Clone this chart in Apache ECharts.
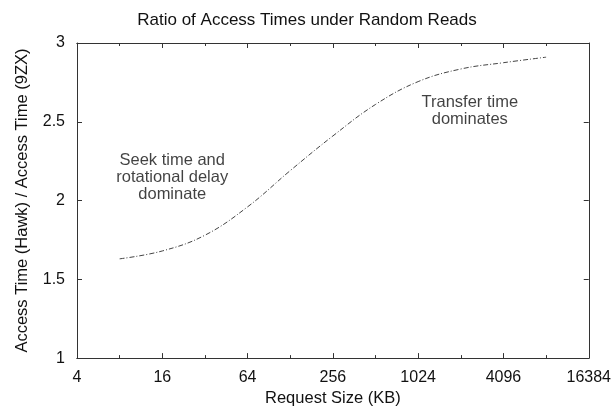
<!DOCTYPE html>
<html>
<head>
<meta charset="utf-8">
<script src="https://cdn.jsdelivr.net/npm/echarts@6/dist/echarts.min.js"></script>
<style>
html,body{margin:0;padding:0;background:#fff;}
#c{width:614px;height:412px;}
</style>
</head>
<body>
<div id="c"></div>
<script>
// Data
var requestSizesKB = [8, 16, 32, 64, 128, 256, 512, 1024, 2048, 4096, 8192];
var accessTimeRatio = [1.63, 1.68, 1.78, 1.96, 2.19, 2.41, 2.61, 2.755, 2.835, 2.875, 2.91];
var xTickLabels = [4, 16, 64, 256, 1024, 4096, 16384];
var yTickLabels = [1, 1.5, 2, 2.5, 3];
var annotationTexts = ['Seek time and\nrotational delay\ndominate', 'Transfer time\ndominates'];
var annotationAnchors = [[18.8, 2.147], [2370, 2.57]];

var FONT = 'Liberation Sans, Arial, Helvetica, sans-serif';
var TXT = '#111';
var LINE = '#333';

var chart = echarts.init(document.getElementById('c'), null, {renderer: 'canvas'});

function xAxisCfg(pos, interval, tickLen, showLabel, showName) {
  return {
    type: 'log',
    logBase: 2,
    min: xTickLabels[0],
    max: xTickLabels[xTickLabels.length - 1],
    interval: interval,
    position: pos,
    name: showName ? 'Request Size (KB)' : '',
    nameLocation: 'middle',
    nameGap: 27,
    nameTextStyle: {fontFamily: FONT, fontSize: 16.5, color: TXT},
    axisLine: {show: true, lineStyle: {color: LINE, width: 1}},
    axisTick: {show: true, inside: true, length: tickLen, lineStyle: {color: LINE, width: 1}},
    axisLabel: {show: showLabel, fontFamily: FONT, fontSize: 16, color: TXT, margin: 11,
      formatter: function (v) { return String(Math.round(v)); }},
    splitLine: {show: false}
  };
}
function yAxisCfg(pos, showLabel, showName) {
  return {
    type: 'value',
    min: yTickLabels[0],
    max: yTickLabels[yTickLabels.length - 1],
    interval: 0.5,
    position: pos,
    name: showName ? 'Access Time (Hawk) / Access Time (9ZX)' : '',
    nameLocation: 'middle',
    nameGap: 46,
    nameTextStyle: {fontFamily: FONT, fontSize: 16.5, color: TXT},
    axisLine: {show: true, lineStyle: {color: LINE, width: 1}},
    axisTick: {show: true, inside: true, length: 5, lineStyle: {color: LINE, width: 1}},
    axisLabel: {show: showLabel, fontFamily: FONT, fontSize: 16, color: TXT, margin: 12,
      formatter: function (v) { return String(v); }},
    splitLine: {show: false}
  };
}

var option = {
  backgroundColor: '#fff',
  animation: false,
  title: {
    text: 'Ratio of Access Times under Random Reads',
    left: 'center',
    top: 7,
    textStyle: {fontFamily: FONT, fontSize: 17, fontWeight: 'normal', color: TXT}
  },
  grid: {left: 77, right: 25, top: 43, bottom: 50, containLabel: false},
  xAxis: [
    xAxisCfg('bottom', 2, 5, true, true),
    xAxisCfg('bottom', 1, 3, false, false),
    xAxisCfg('top', 2, 5, false, false),
    xAxisCfg('top', 1, 3, false, false)
  ],
  yAxis: [
    yAxisCfg('left', true, true),
    yAxisCfg('right', false, false)
  ],
  series: [
    {
      type: 'line',
      xAxisIndex: 0,
      yAxisIndex: 0,
      data: requestSizesKB.map(function (s, i) { return [s, accessTimeRatio[i]]; }),
      smooth: 0.4,
      symbol: 'none',
      lineStyle: {color: '#444', width: 1, type: [5, 2, 1, 2]}
    },
    {
      type: 'scatter',
      xAxisIndex: 0,
      yAxisIndex: 0,
      symbolSize: 0,
      silent: true,
      data: annotationAnchors.map(function (p, i) {
        return {value: p, label: {formatter: annotationTexts[i]}};
      }),
      label: {
        show: true,
        position: 'inside',
        align: 'center',
        verticalAlign: 'middle',
        fontFamily: FONT,
        fontSize: 16.5,
        lineHeight: 17,
        color: TXT,
        textBorderWidth: 0
      }
    }
  ]
};
chart.setOption(option);
</script>
</body>
</html>
